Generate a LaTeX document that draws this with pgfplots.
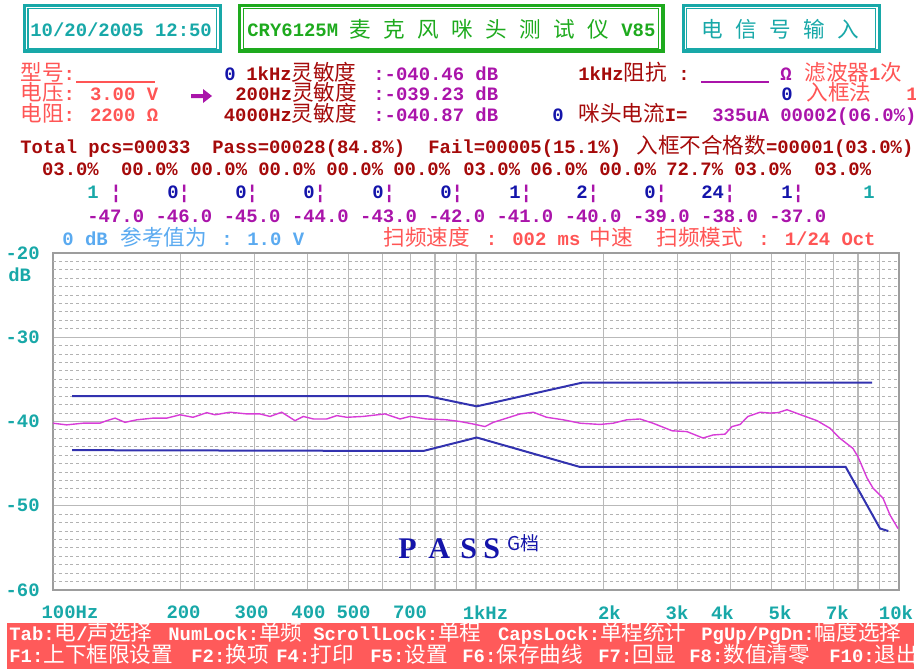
\documentclass[border=0pt]{standalone}
\usepackage{pgfplots}
\pgfplotsset{compat=1.18}
\usepackage{fontspec}
\newfontfamily\mono{Liberation Mono}
\newfontfamily\cjk{Noto Sans CJK SC}
\newfontfamily\serifb{Liberation Serif}
\newcommand\M{\mono\bfseries\fontsize{9.45}{11}\selectfont}
\newcommand\Z[1]{{\cjk\mdseries\fontsize{10.8}{12}\selectfont #1}}
\definecolor{teal1}{RGB}{24,168,168}
\definecolor{green1}{RGB}{30,170,30}
\definecolor{salmon}{RGB}{255,85,85}
\definecolor{dred}{RGB}{165,10,10}
\definecolor{purple1}{RGB}{170,20,170}
\definecolor{dblue}{RGB}{20,20,170}
\definecolor{lblue}{RGB}{90,170,240}
\definecolor{curve}{RGB}{215,60,215}
\definecolor{limit}{RGB}{50,50,175}
\definecolor{gridgray}{RGB}{185,185,185}
\definecolor{barred}{RGB}{255,90,90}
\newcommand\T[4]{\node[anchor=base west,inner sep=0pt,text=#3] at (#1,#2) {#4};}
\begin{document}
\begin{tikzpicture}
\path[use as bounding box] (0,0) rectangle (458pt,-334.5pt);
\begin{axis}[
  at={(26.5pt,-126.5pt)}, anchor=north west, scale only axis,
  width=423pt, height=168.5pt,
  xmode=log, xmin=100, xmax=10000, ymin=-60, ymax=-20,
  xtick={109.7,203.5,294.7,401.8,513.4,698.3,1053,2068,2987,3824,5232,7154,9838},
  xticklabels={100Hz,200,300,400,500,700,1kHz,2k,3k,4k,5k,7k,10k},
  minor xtick={100,200,300,400,500,600,700,800,900,1000,2000,3000,4000,5000,6000,7000,8000,9000,10000},
  xminorgrids=true, xmajorgrids=false,
  minor grid style={gridgray, line width=0.6pt},
  ytick={-60,-50,-40,-30,-20},
  yticklabels={-60,-50,-40,-30,-20},
  ymajorgrids=true,
  major grid style={gridgray, line width=0.6pt},
  extra y ticks={-59,-58,-57,-56,-55,-54,-53,-52,-51,-49,-48,-47,-46,-45,-44,-43,-42,-41,-39,-38,-37,-36,-35,-34,-33,-32,-31,-29,-28,-27,-26,-25,-24,-23,-22,-21},
  extra y tick labels={},
  extra y tick style={major grid style={gray!60, line width=0.5pt, dash pattern=on 1.5pt off 1.4pt}},
  major tick length=0pt, minor tick length=0pt,
  axis line style={gridgray!85!black, line width=0.7pt},
  xticklabel style={font=\M, text=teal1, anchor=north, inner sep=0pt, yshift=-7.5pt},
  yticklabel style={font=\M, text=teal1, anchor=east, inner sep=0pt, xshift=-6.5pt},
]
\addplot[limit, line width=1pt] coordinates {(111,-37.0) (771,-37.0) (1004,-38.2) (1778,-35.4) (8634,-35.4)};
\addplot[limit, line width=1pt] coordinates {(111,-43.4) (751,-43.5) (1004,-41.9) (1762,-45.4) (7482,-45.4) (9018,-52.7) (9434,-53.0)};
\addplot[curve, line width=0.7pt] coordinates {
(100,-40.2) (107.7,-40.4) (117.7,-40.2) (129.1,-40.2) (134.0,-39.9) (140.2,-39.6) (148.0,-40.1) (157.7,-39.8)
(172.3,-39.6) (185.7,-39.6) (199.7,-39.2) (214.3,-39.5) (230.9,-38.95) (241.5,-39.2) (262.1,-38.9) (287.1,-39.1)
(308.6,-39.1) (325.8,-39.4) (347.3,-38.9) (373.4,-39.9) (390.6,-39.4) (412.5,-39.7) (443.6,-39.7) (468.5,-39.3)
(494.8,-39.5) (540.5,-39.4) (609.5,-39.1) (661.2,-39.7) (698.2,-39.4) (764.7,-39.7) (852.5,-39.8) (916.8,-40.0)
(985.4,-40.3) (1050,-40.6) (1099,-40.1) (1182,-39.6) (1271,-39.1) (1366,-38.9) (1469,-39.5) (1609,-39.8)
(1762,-40.2) (1964,-40.35) (2112,-40.2) (2272,-39.8) (2442,-39.7) (2620,-40.2) (2906,-41.1) (3153,-41.2)
(3441,-41.96) (3634,-41.6) (3880,-41.5) (4029,-40.6) (4210,-40.35) (4395,-39.4) (4693,-38.9) (4955,-39.0)
(5175,-38.95) (5436,-38.6) (5930,-39.3) (6400,-39.9) (6869,-40.8) (7254,-42.0) (7785,-43.2) (8000,-44.2)
(8402,-46.7) (8680,-47.9) (9166,-49.1) (9521,-51.1) (9945,-52.7)};
\end{axis}
\begin{scope}[x=0.5pt,y=-0.5pt]
% header boxes
\draw[teal1, line width=1.6pt] (24.3,5.7) rectangle (220.5,51);
\draw[teal1, line width=0.6pt] (28,8.8) rectangle (216.7,48.2);
\draw[green1, line width=1.6pt] (239.7,5.7) rectangle (663,51);
\draw[green1, line width=0.6pt] (243.8,8.8) rectangle (658.5,48.2);
\draw[teal1, line width=1.6pt] (683.2,5.7) rectangle (879.8,51);
\draw[teal1, line width=0.6pt] (686.8,8.8) rectangle (875.2,48.2);
\T{30}{36}{teal1}{\M 10/20/2005 12:50}
\T{247}{36}{green1}{\M CRY6125M}
\foreach \c [count=\i from 0] in {麦,克,风,咪,头,测,试,仪} {\T{349+34*\i}{38}{green1}{\Z{\c}}}
\T{621}{36}{green1}{\M V85}
\foreach \c [count=\i from 0] in {电,信,号,输,入} {\T{701+34*\i}{38}{teal1}{\Z{\c}}}
% row 1
\T{20}{80}{salmon}{\Z{型号}\M :}
\draw[salmon, line width=0.6pt] (76,82) -- (155,82);
\T{224}{80}{dblue}{\M 0}
\T{246}{80}{dred}{\M 1kHz\Z{灵敏度}}
\T{373}{80}{purple1}{\M :-040.46 dB}
\T{578}{80}{dred}{\M 1kHz\Z{阻抗}}
\T{678}{80}{dred}{\M :}
\draw[purple1, line width=0.6pt] (701,82) -- (769,82);
\T{780}{80}{purple1}{\M Ω}
\T{804}{80}{salmon}{\Z{滤波器}\M 1\Z{次}}
% row 2
\T{20}{100}{salmon}{\Z{电压}\M : 3.00 V}
\fill[purple1] (191,94) -- (203,94) -- (203,89) -- (212,96) -- (203,103) -- (203,98) -- (191,98) -- cycle;
\T{235}{100}{dred}{\M 200Hz\Z{灵敏度}}
\T{373}{100}{purple1}{\M :-039.23 dB}
\T{781}{100}{dblue}{\M 0}
\T{806}{100}{salmon}{\Z{入框法}}
\T{906}{100}{salmon}{\M 1}
% row 3
\T{20}{121}{salmon}{\Z{电阻}\M : 2200 Ω}
\T{223.5}{121}{dred}{\M 4000Hz\Z{灵敏度}}
\T{373}{121}{purple1}{\M :-040.87 dB}
\T{552}{121}{dblue}{\M 0}
\T{578}{121}{dred}{\Z{咪头电流}\M I=}
\T{712}{121}{purple1}{\M 335uA}
\T{780}{121}{purple1}{\M 00002(06.0\%)}
% row 4
\T{20}{153}{dred}{\M Total pcs=00033}
\T{212}{153}{dred}{\M Pass=00028(84.8\%)}
\T{428}{153}{dred}{\M Fail=00005(15.1\%)}
\T{636}{153}{dred}{\Z{入框不合格数}\M =00001(03.0\%)}
% row 5
\foreach \x/\v in {41.7/03.0,120.7/00.0,190/00.0,258/00.0,326/00.0,393/00.0,463/03.0,530/06.0,599/00.0,666/72.7,734/03.0,814/03.0} {\T{\x}{175}{dred}{\M \v\%}}
% row 6
\T{87}{198}{teal1}{\M 1}
\T{110}{198}{purple1}{\M ¦}
\foreach \x/\v in {167/0,235/0,303/0,372/0,440/0,509/1,576/2,644/0,701/24,781/1} {\T{\x}{198}{dblue}{\M \v\textcolor{purple1}{¦}}}
\T{863}{198}{teal1}{\M 1}
% row 7
\foreach \v [count=\i from 0] in {47,46,45,44,43,42,41,40,39,38,37} {\T{87+68.2*\i}{222}{purple1}{\M -\v.0}}
% row 8
\T{62}{245}{lblue}{\M 0 dB}
\T{120}{245}{lblue}{\Z{参考值为}}
\T{221}{245}{lblue}{\M :}
\T{247}{245}{lblue}{\M 1.0 V}
\T{383}{245}{salmon}{\Z{扫频速度}}
\T{485.5}{245}{salmon}{\M : 002 ms}
\T{589}{245}{salmon}{\Z{中速}}
\T{656}{245}{salmon}{\Z{扫频模式}}
\T{758}{245}{salmon}{\M : 1/24 Oct}
% y unit
\T{8}{281}{teal1}{\M dB}
% PASS
\T{398}{558}{dblue}{\serifb\bfseries\fontsize{15}{15}\selectfont P}
\T{428}{558}{dblue}{\serifb\bfseries\fontsize{15}{15}\selectfont A}
\T{460}{558}{dblue}{\serifb\bfseries\fontsize{15}{15}\selectfont S}
\T{483}{558}{dblue}{\serifb\bfseries\fontsize{15}{15}\selectfont S}
\T{507}{550}{dblue}{\cjk\fontsize{9.5}{10}\selectfont G档}
% bottom bar
\fill[barred] (7,623) rectangle (914,669);
\T{9}{640}{white}{\M Tab:\Z{电}/\Z{声选择}}
\T{168}{640}{white}{\M NumLock:\Z{单频}}
\T{313}{640}{white}{\M ScrollLock:\Z{单程}}
\T{497.7}{640}{white}{\M CapsLock:\Z{单程统计}}
\T{701}{640}{white}{\M PgUp/PgDn:\Z{幅度选择}}
\T{9}{662}{white}{\M F1:\Z{上下框限设置}}
\T{191}{662}{white}{\M F2:\Z{换项}}
\T{276}{662}{white}{\M F4:\Z{打印}}
\T{370}{662}{white}{\M F5:\Z{设置}}
\T{462}{662}{white}{\M F6:\Z{保存曲线}}
\T{598}{662}{white}{\M F7:\Z{回显}}
\T{689}{662}{white}{\M F8:\Z{数值清零}}
\T{829}{662}{white}{\M F10:\Z{退出}}
\end{scope}
\end{tikzpicture}
\end{document}
